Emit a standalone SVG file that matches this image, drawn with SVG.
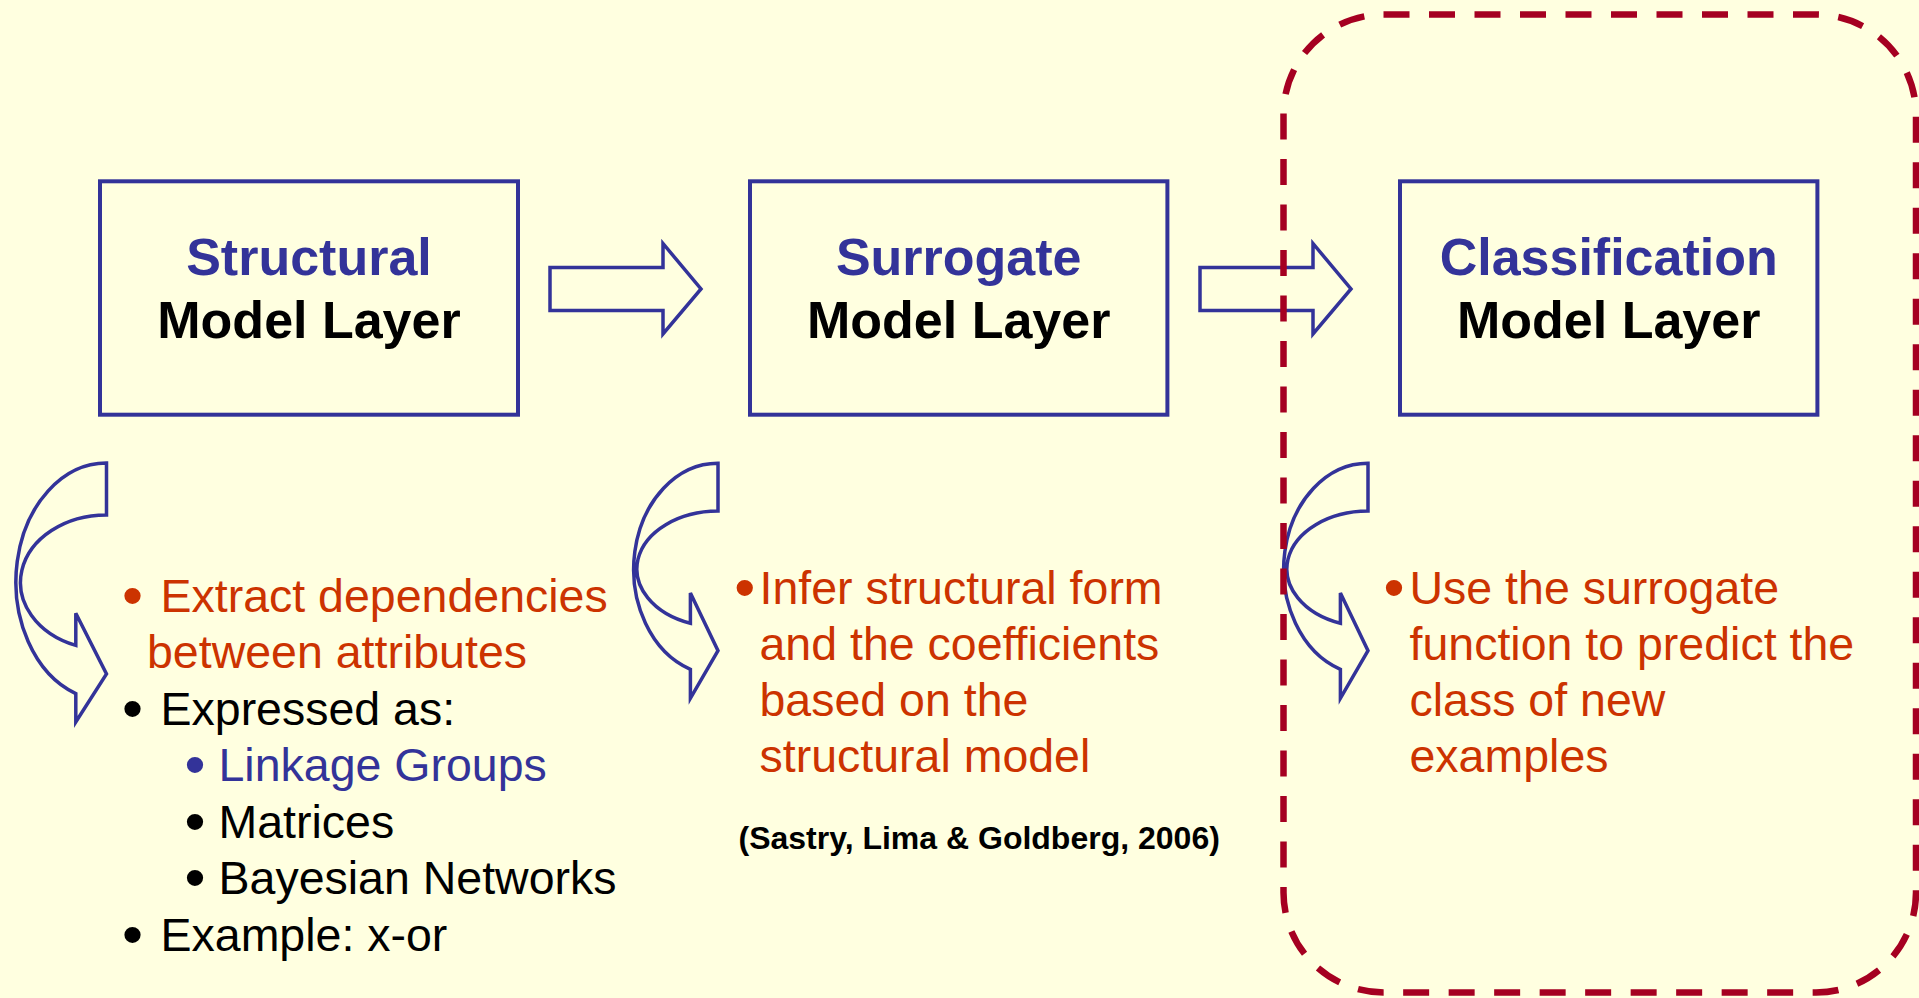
<svg xmlns="http://www.w3.org/2000/svg" width="1919" height="998" viewBox="0 0 1919 998">
<style>
.bg{fill:#FFFFE0}
.box{fill:#FFFFE0;stroke:#333399;stroke-width:4}
.blk{fill:#FFFFE0;stroke:#333399;stroke-width:3.5;stroke-linejoin:miter}
.t1{font-family:"Liberation Sans",Arial,sans-serif;font-weight:bold;font-size:52px;text-anchor:middle}
.blue{fill:#333399}
.black{fill:#000000}
.red{fill:#CC3300}
.body{font-family:"Liberation Sans",Arial,sans-serif;font-size:46.5px}
.bul{font-family:"Liberation Sans",Arial,sans-serif;font-size:60px}
.cite{font-family:"Liberation Sans",Arial,sans-serif;font-weight:bold;font-size:32px;fill:#000}
.dash{fill:none;stroke:#A50021;stroke-width:6.5;stroke-dasharray:26 19.5}
</style>
<rect class="bg" x="0" y="0" width="1919" height="998"/>

<g id="connectors">
  <path class="blk" d="M550,267.5 L663,267.5 L663,243.5 L701,289 L663,334 L663,310.5 L550,310.5 Z"/>
  <path class="blk" d="M1200,267.5 L1313,267.5 L1313,243.5 L1351,289 L1313,334 L1313,310.5 L1200,310.5 Z"/>
  <path class="blk" d="M106.5,463 A90.5,118.8 0 0 0 75.8,693.6 L75.8,722 L106.5,674 L75.8,613.2 L75.8,645.4 A85.8,67.4 0 0 1 106.5,515 Z"/>
  <path class="blk" d="M718,463.3 A84.2,105.9 0 0 0 690.4,669.3 L690.4,698.3 L718,650.7 L690.4,593 L690.4,623.3 A81.4,57.9 0 0 1 718,511 Z"/>
  <path class="blk" d="M1368,463.3 A84.2,105.9 0 0 0 1340.4,669.3 L1340.4,698.3 L1368,650.7 L1340.4,593 L1340.4,623.3 A81.4,57.9 0 0 1 1368,511 Z"/>
</g>

<g id="node-structural">
  <rect class="box" x="100" y="181.3" width="418" height="233.4"/>
  <text class="t1 blue" x="309" y="275">Structural</text>
  <text class="t1 black" x="309" y="338">Model Layer</text>
</g>

<g id="node-surrogate">
  <rect class="box" x="750" y="181.3" width="417.4" height="233.4"/>
  <text class="t1 blue" x="958.7" y="275">Surrogate</text>
  <text class="t1 black" x="958.7" y="338">Model Layer</text>
</g>

<g id="node-classification">
  <rect class="box" x="1400" y="181.3" width="417.4" height="233.4"/>
  <text class="t1 blue" x="1608.7" y="275">Classification</text>
  <text class="t1 black" x="1608.7" y="338">Model Layer</text>
</g>

<g id="text-structural">
  <text class="bul red" x="122" y="616">•</text>
  <text class="body red" x="160.5" y="612">Extract dependencies</text>
  <text class="body red" x="147" y="668">between attributes</text>
  <text class="bul black" x="122" y="729">•</text>
  <text class="body black" x="160.5" y="725">Expressed as:</text>
  <text class="bul blue" x="184.6" y="785">•</text>
  <text class="body blue" x="218.5" y="781">Linkage Groups</text>
  <text class="bul black" x="184.6" y="841.5">•</text>
  <text class="body black" x="218.5" y="837.5">Matrices</text>
  <text class="bul black" x="184.6" y="898">•</text>
  <text class="body black" x="218.5" y="894">Bayesian Networks</text>
  <text class="bul black" x="122" y="954.5">•</text>
  <text class="body black" x="160.5" y="950.5">Example: x-or</text>
</g>

<g id="text-surrogate">
  <text class="bul red" x="734.2" y="607.5">•</text>
  <text class="body red" x="759.5" y="603.5">Infer structural form</text>
  <text class="body red" x="759.5" y="659.5">and the coefficients</text>
  <text class="body red" x="759.5" y="716">based on the</text>
  <text class="body red" x="759.5" y="772">structural model</text>
</g>

<g id="citation">
  <text class="cite" x="738.5" y="849">(Sastry, Lima &amp; Goldberg, 2006)</text>
</g>

<g id="text-classification">
  <text class="bul red" x="1383.6" y="607.5">•</text>
  <text class="body red" x="1409.5" y="603.5">Use the surrogate</text>
  <text class="body red" x="1409.5" y="659.5">function to predict the</text>
  <text class="body red" x="1409.5" y="716">class of new</text>
  <text class="body red" x="1409.5" y="772">examples</text>
</g>

<g id="highlight">
  <rect class="dash" x="1283.5" y="14.5" width="632.5" height="978" rx="100" ry="100"/>
</g>
</svg>
